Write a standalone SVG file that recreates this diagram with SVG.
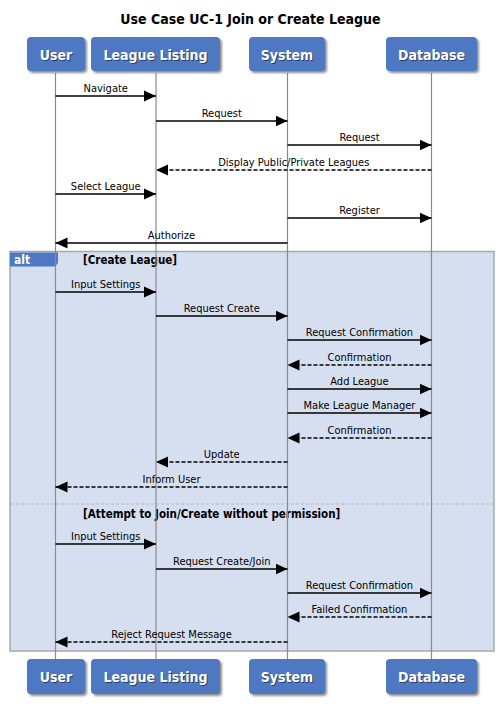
<svg xmlns="http://www.w3.org/2000/svg" width="501" height="715" viewBox="0 0 501 715">
<style>
text{font-family:"DejaVu Sans Condensed","DejaVu Sans","Liberation Sans",sans-serif}
.title{font-size:14px;font-weight:bold;fill:#000;text-anchor:middle}
.pbox{fill:#4f78c3}
.pshadow{fill:#333;opacity:.55}
.ptext{font-size:14px;font-weight:bold;fill:#fff;text-anchor:middle}
.ptsh{font-size:14px;font-weight:bold;fill:#1d2d50;opacity:.8;text-anchor:middle}
.life{stroke:#8a8a8a;stroke-width:1.2}
.msg{stroke:#000;stroke-width:1.4;fill:none}
.dash{stroke-dasharray:4,2}
.lbl{font-size:11px;fill:#000;text-anchor:middle}
.guard{font-size:11.5px;font-weight:bold;fill:#000}
.frame{fill:#d6dff0;stroke:#a8a8a8;stroke-width:1.5}
.sep{stroke:#b8b8b8;stroke-width:1;stroke-dasharray:3,2}
.tab{fill:#4f78c3}
.tabtxt{font-size:12px;font-weight:bold;fill:#fff}
</style>
<defs>
<marker id="ah" markerUnits="userSpaceOnUse" markerWidth="13" markerHeight="12" refX="12" refY="6" orient="auto">
<path d="M0,0.5 L12,6 L0,11.5 Z" fill="#000"/>
</marker>
<filter id="blur" x="-10%" y="-10%" width="120%" height="130%"><feGaussianBlur stdDeviation="0.8"/></filter>
</defs>

<text class="title" x="250.5" y="24">Use Case UC-1 Join or Create League</text>

<g id="alt-frame">
<rect class="frame" x="10" y="251.5" width="484" height="399.5"/>
<line class="sep" x1="11" y1="504" x2="493" y2="504"/>
<path class="tab" d="M10,252.5 H58 V263 L55,266.5 H10 Z"/>
<text class="tabtxt" x="14" y="264">alt</text>
<text class="guard" x="83" y="263.5">[Create League]</text>
<text class="guard" x="83" y="517.5">[Attempt to Join/Create without permission]</text>
</g>

<g id="lifelines">
<line class="life" x1="55.5" y1="73" x2="55.5" y2="659"/>
<line class="life" x1="156" y1="73" x2="156" y2="659"/>
<line class="life" x1="287.5" y1="73" x2="287.5" y2="659"/>
<line class="life" x1="431.5" y1="73" x2="431.5" y2="659"/>
</g>

<g id="user">
<rect class="pshadow" filter="url(#blur)" x="29" y="39" width="58" height="34" rx="4"/>
<rect class="pbox" x="27" y="37" width="58" height="34" rx="4"/>
<text class="ptsh" x="57" y="61">User</text>
<text class="ptext" x="56" y="60">User</text>
<rect class="pshadow" filter="url(#blur)" x="29" y="661" width="58" height="35" rx="4"/>
<rect class="pbox" x="27" y="659" width="58" height="35" rx="4"/>
<text class="ptsh" x="57" y="683">User</text>
<text class="ptext" x="56" y="682">User</text>
</g>

<g id="league-listing">
<rect class="pshadow" filter="url(#blur)" x="93" y="39" width="129" height="34" rx="4"/>
<rect class="pbox" x="91" y="37" width="129" height="34" rx="4"/>
<text class="ptsh" x="156.5" y="61">League Listing</text>
<text class="ptext" x="155.5" y="60">League Listing</text>
<rect class="pshadow" filter="url(#blur)" x="93" y="661" width="129" height="35" rx="4"/>
<rect class="pbox" x="91" y="659" width="129" height="35" rx="4"/>
<text class="ptsh" x="156.5" y="683">League Listing</text>
<text class="ptext" x="155.5" y="682">League Listing</text>
</g>

<g id="system">
<rect class="pshadow" filter="url(#blur)" x="251" y="39" width="76" height="34" rx="4"/>
<rect class="pbox" x="249" y="37" width="76" height="34" rx="4"/>
<text class="ptsh" x="288" y="61">System</text>
<text class="ptext" x="287" y="60">System</text>
<rect class="pshadow" filter="url(#blur)" x="251" y="661" width="76" height="35" rx="4"/>
<rect class="pbox" x="249" y="659" width="76" height="35" rx="4"/>
<text class="ptsh" x="288" y="683">System</text>
<text class="ptext" x="287" y="682">System</text>
</g>

<g id="database">
<rect class="pshadow" filter="url(#blur)" x="388" y="39" width="91" height="34" rx="4"/>
<rect class="pbox" x="386" y="37" width="91" height="34" rx="4"/>
<text class="ptsh" x="432.5" y="61">Database</text>
<text class="ptext" x="431.5" y="60">Database</text>
<rect class="pshadow" filter="url(#blur)" x="388" y="661" width="91" height="35" rx="4"/>
<rect class="pbox" x="386" y="659" width="91" height="35" rx="4"/>
<text class="ptsh" x="432.5" y="683">Database</text>
<text class="ptext" x="431.5" y="682">Database</text>
</g>

<g id="connectors">
<line class="msg" x1="55.5" y1="96" x2="156" y2="96" marker-end="url(#ah)"/>
<text class="lbl" x="105.75" y="92">Navigate</text>
<line class="msg" x1="156" y1="121" x2="287.5" y2="121" marker-end="url(#ah)"/>
<text class="lbl" x="221.75" y="117">Request</text>
<line class="msg" x1="287.5" y1="145" x2="431.5" y2="145" marker-end="url(#ah)"/>
<text class="lbl" x="359.5" y="141">Request</text>
<line class="msg dash" x1="431.5" y1="170" x2="156" y2="170" marker-end="url(#ah)"/>
<text class="lbl" x="293.75" y="166">Display Public/Private Leagues</text>
<line class="msg" x1="55.5" y1="194" x2="156" y2="194" marker-end="url(#ah)"/>
<text class="lbl" x="105.75" y="190">Select League</text>
<line class="msg" x1="287.5" y1="218" x2="431.5" y2="218" marker-end="url(#ah)"/>
<text class="lbl" x="359.5" y="214">Register</text>
<line class="msg" x1="287.5" y1="243" x2="55.5" y2="243" marker-end="url(#ah)"/>
<text class="lbl" x="171.5" y="239">Authorize</text>

<line class="msg" x1="55.5" y1="292" x2="156" y2="292" marker-end="url(#ah)"/>
<text class="lbl" x="105.75" y="288">Input Settings</text>
<line class="msg" x1="156" y1="316" x2="287.5" y2="316" marker-end="url(#ah)"/>
<text class="lbl" x="221.75" y="312">Request Create</text>
<line class="msg" x1="287.5" y1="340" x2="431.5" y2="340" marker-end="url(#ah)"/>
<text class="lbl" x="359.5" y="336">Request Confirmation</text>
<line class="msg dash" x1="431.5" y1="365" x2="287.5" y2="365" marker-end="url(#ah)"/>
<text class="lbl" x="359.5" y="361">Confirmation</text>
<line class="msg" x1="287.5" y1="389" x2="431.5" y2="389" marker-end="url(#ah)"/>
<text class="lbl" x="359.5" y="385">Add League</text>
<line class="msg" x1="287.5" y1="413" x2="431.5" y2="413" marker-end="url(#ah)"/>
<text class="lbl" x="359.5" y="409">Make League Manager</text>
<line class="msg dash" x1="431.5" y1="438" x2="287.5" y2="438" marker-end="url(#ah)"/>
<text class="lbl" x="359.5" y="434">Confirmation</text>
<line class="msg dash" x1="287.5" y1="462" x2="156" y2="462" marker-end="url(#ah)"/>
<text class="lbl" x="221.75" y="458">Update</text>
<line class="msg dash" x1="287.5" y1="487" x2="55.5" y2="487" marker-end="url(#ah)"/>
<text class="lbl" x="171.5" y="483">Inform User</text>

<line class="msg" x1="55.5" y1="544" x2="156" y2="544" marker-end="url(#ah)"/>
<text class="lbl" x="105.75" y="540">Input Settings</text>
<line class="msg" x1="156" y1="569" x2="287.5" y2="569" marker-end="url(#ah)"/>
<text class="lbl" x="221.75" y="565">Request Create/Join</text>
<line class="msg" x1="287.5" y1="593" x2="431.5" y2="593" marker-end="url(#ah)"/>
<text class="lbl" x="359.5" y="589">Request Confirmation</text>
<line class="msg dash" x1="431.5" y1="617" x2="287.5" y2="617" marker-end="url(#ah)"/>
<text class="lbl" x="359.5" y="613">Failed Confirmation</text>
<line class="msg dash" x1="287.5" y1="642" x2="55.5" y2="642" marker-end="url(#ah)"/>
<text class="lbl" x="171.5" y="638">Reject Request Message</text>
</g>
</svg>
